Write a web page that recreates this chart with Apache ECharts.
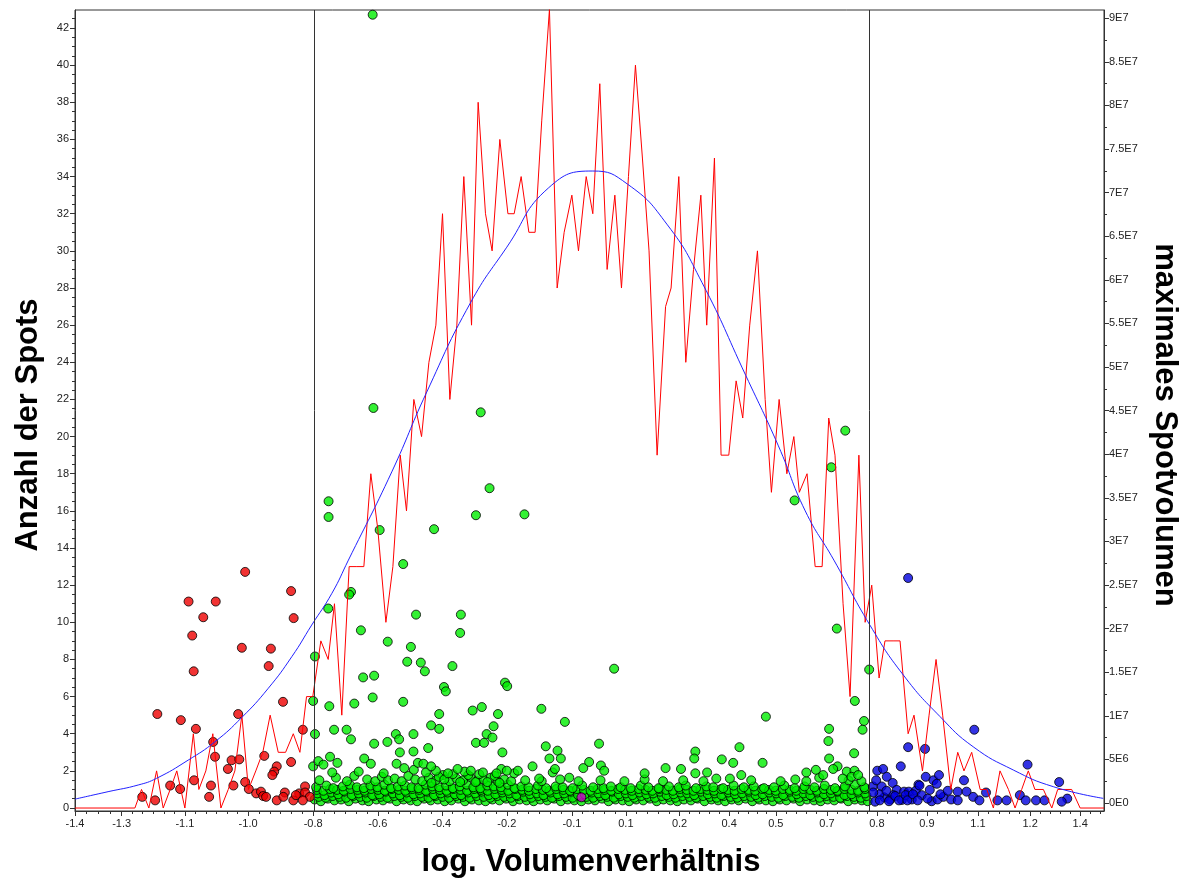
<!DOCTYPE html>
<html><head><meta charset="utf-8">
<script src="https://cdn.jsdelivr.net/npm/echarts@6/dist/echarts.min.js"></script>
<style>html,body{margin:0;padding:0;background:#fff}#c{width:1189px;height:883px}</style>
</head><body><div id="c"></div>
<script>
// ---------- axis ticks ----------
const xTickValues = [-1.400,-1.273,-1.101,-0.929,-0.752,-0.576,-0.402,-0.225,-0.048,0.099,0.245,0.380,0.507,0.646,0.782,0.918,1.057,1.199,1.335];
const xTickLabels = ["-1.4","-1.3","-1.1","-1.0","-0.8","-0.6","-0.4","-0.2","-0.1","0.1","0.2","0.4","0.5","0.7","0.8","0.9","1.1","1.2","1.4"];
const yLeftTickValues = [0,2,4,6,8,10,12,14,16,18,20,22,24,26,28,30,32,34,36,38,40,42];
const yLeftTickLabels = ["0","2","4","6","8","10","12","14","16","18","20","22","24","26","28","30","32","34","36","38","40","42"];
// right axis values in millions
const yRightTickValues = [0,5,10,15,20,25,30,35,40,45,50,55,60,65,70,75,80,85,90];
const yRightTickLabels = ["0E0","5E6","1E7","1.5E7","2E7","2.5E7","3E7","3.5E7","4E7","4.5E7","5E7","5.5E7","6E7","6.5E7","7E7","7.5E7","8E7","8.5E7","9E7"];

// ---------- histogram (Anzahl der Spots) ----------
const histX = [-1.400,-1.237,-1.219,-1.199,-1.178,-1.160,-1.141,-1.123,-1.101,-1.078,-1.063,-1.044,-1.025,-1.003,-0.983,-0.965,-0.946,-0.928,-0.908,-0.889,-0.869,-0.847,-0.827,-0.806,-0.788,-0.770,-0.753,-0.731,-0.711,-0.694,-0.674,-0.654,-0.633,-0.614,-0.595,-0.576,-0.554,-0.535,-0.515,-0.498,-0.478,-0.457,-0.437,-0.418,-0.400,-0.380,-0.361,-0.342,-0.321,-0.303,-0.283,-0.265,-0.244,-0.222,-0.205,-0.186,-0.165,-0.148,-0.130,-0.109,-0.088,-0.069,-0.048,-0.030,-0.009,0.009,0.028,0.048,0.069,0.087,0.106,0.125,0.144,0.162,0.184,0.207,0.222,0.243,0.262,0.283,0.303,0.319,0.340,0.358,0.379,0.399,0.417,0.436,0.457,0.478,0.495,0.516,0.537,0.556,0.571,0.592,0.614,0.633,0.651,0.668,0.690,0.709,0.733,0.750,0.768,0.788,0.804,0.826,0.845,0.867,0.883,0.906,0.924,0.943,0.961,0.983,1.002,1.019,1.040,1.063,1.081,1.099,1.117,1.140,1.158,1.176,1.194,1.212,1.235,1.258,1.274,1.294,1.312,1.335,1.400];
const histCount = [0,0,1,0,2,0,1,2,0,4,1,2,4,0,1,2,5,1,2,3,5,3,3,4,3,6,6,9,8,11,5,13,13,13,18,15,10,13,19,16,22,20,24,26,32,22,26,34,26,38,32,30,36,32,32,34,31,31,37,43,28,31,33,30,34,32,39,29,33,28,34,40,35,30,19,27,28,34,24,29,33,26,35,19,19,23,21,26,30,22,17,22,18,20,17,18,13,13,21,19,11,6,19,10,12,7,9,9,9,4,5,2,5,8,5,1,3,2,3,1,1,0,2,1,0,1,2,1,1,0,1,1,1,0,0];

// ---------- Gaussian fit ----------
const fitX = [-1.400,-1.310,-1.228,-1.178,-1.092,-1.019,-0.946,-0.874,-0.810,-0.756,-0.701,-0.656,-0.538,-0.444,-0.324,-0.225,-0.111,0.009,0.103,0.212,0.306,0.425,0.514,0.587,0.665,0.763,0.854,0.954,1.044,1.153,1.262,1.398];
const fitY = [0.48,0.88,1.24,1.60,2.58,3.57,4.88,6.45,8.15,9.85,11.56,13.35,18.1,22.35,27.2,30.2,33.4,34.3,33.6,31.4,28.3,23.3,19.5,16.0,13.35,9.85,7.16,4.92,3.30,2.05,1.15,0.52];

// ---------- thresholds ----------
const thresholdX = [-0.753, 0.763];

// ---------- spots: [log ratio, max spot volume in millions] ----------
const redSpots = [[-0.937,26.5],[-1.091,23.1],[-1.017,23.1],[-1.051,21.3],[-1.081,19.2],[-0.812,24.3],[-0.805,21.2],[-0.946,17.8],[-0.867,17.7],[-1.077,15.1],[-0.873,15.7],[-1.176,10.2],[-1.112,9.5],[-0.956,10.2],[-1.071,8.5],[-0.834,11.6],[-0.780,8.4],[-1.024,7.0],[-1.019,5.3],[-0.974,4.9],[-0.953,5.0],[-0.984,3.9],[-0.885,5.4],[-0.812,4.7],[-0.851,4.2],[-0.858,3.6],[-0.863,3.2],[-1.076,2.6],[-1.141,2.0],[-1.114,1.6],[-1.030,2.0],[-0.937,2.4],[-0.969,2.0],[-0.927,1.6],[-1.217,0.7],[-1.182,0.3],[-1.035,0.7],[-0.907,1.1],[-0.894,1.3],[-0.888,0.8],[-0.880,0.7],[-0.851,0.3],[-0.829,1.2],[-0.833,0.7],[-0.806,0.3],[-0.790,1.1],[-0.774,1.9],[-0.774,1.2],[-0.761,0.7],[-0.780,0.3],[-0.799,0.9]];

const greenSpots = [[-0.590,90.4],[-0.588,45.3],[-0.296,44.8],[-0.710,34.6],[-0.710,32.8],[-0.571,31.3],[-0.423,31.4],[-0.309,33.0],[-0.272,36.1],[-0.177,33.1],[0.558,34.7],[0.658,38.5],[0.696,42.7],
[-0.507,27.4],[-0.649,24.2],[-0.654,23.9],[-0.711,22.3],[-0.472,21.6],[-0.622,19.8],[-0.549,18.5],[-0.486,17.9],[-0.747,16.8],[-0.496,16.2],[-0.459,16.1],[-0.448,15.1],[-0.616,14.4],[-0.586,14.6],[-0.590,12.1],[-0.752,11.7],[-0.708,11.1],[-0.640,11.4],[-0.507,11.6],[-0.431,8.9],[-0.747,7.9],[-0.695,8.4],[-0.661,8.4],[-0.649,7.3],[-0.586,6.8],[-0.550,7.0],[-0.527,7.9],[-0.518,7.3],[-0.479,7.9],[-0.439,6.3],[-0.516,5.8],[-0.479,5.9],[-0.752,4.2],[-0.738,4.8],[-0.724,4.4],[-0.706,5.3],[-0.686,4.6],[-0.613,5.1],[-0.595,4.5],[-0.525,4.5],[-0.504,4.0],[-0.467,4.6],[-0.452,4.5],[-0.431,4.2],
[-0.350,21.6],[-0.352,19.5],[-0.373,15.7],[-0.396,13.3],[-0.391,12.8],[-0.230,13.8],[-0.224,13.4],[0.067,15.4],[-0.318,10.6],[-0.293,11.0],[-0.249,10.2],[-0.409,10.2],[-0.409,8.5],[-0.261,8.8],[-0.280,7.9],[-0.264,7.5],[-0.309,6.9],[-0.287,6.9],[-0.131,10.8],[-0.067,9.3],[0.480,9.9],[-0.237,5.8],[0.026,6.8],[-0.119,6.5],[-0.087,6.0],[-0.109,5.1],[-0.078,5.1],[-0.001,4.7],[0.031,4.3],[-0.017,4.0],[0.040,3.7],[-0.094,3.9],[-0.155,4.2],[-0.195,3.7],[0.207,4.0],[0.249,3.9],[0.288,5.9],[0.285,5.1],[0.288,3.4],[0.360,5.0],[0.391,4.6],[0.408,6.4],[0.471,4.6],[0.382,2.8],[0.413,3.2],[-0.055,2.9],[-0.137,2.8],[-0.323,3.7],[-0.359,3.9],[-0.253,3.4],[-0.225,3.7],
[0.673,20.0],[0.761,15.3],[0.722,11.7],[0.652,8.5],[0.747,9.4],[0.743,8.4],[0.650,7.1],[0.720,5.7],[0.652,5.1],[0.675,4.2],[0.616,3.8],[0.721,3.7],[0.663,3.9],[0.689,2.8],[0.713,3.0],[0.731,3.2],[0.636,3.2]];

// dense band of small spots near the bottom (read row by row)
const greenBandLow = [[-0.748,0.4],[-0.731,0.2],[-0.712,0.5],[-0.694,0.3],[-0.676,0.4],[-0.655,0.2],[-0.637,0.5],[-0.618,0.3],[-0.601,0.2],[-0.580,0.4],[-0.562,0.3],[-0.543,0.5],[-0.525,0.2],[-0.506,0.4],[-0.487,0.3],[-0.469,0.2],[-0.450,0.5],[-0.432,0.3],[-0.413,0.4],[-0.394,0.2],[-0.376,0.3],[-0.357,0.5],[-0.339,0.2],[-0.320,0.4],[-0.301,0.3],[-0.283,0.2],[-0.264,0.4],[-0.245,0.3],[-0.227,0.5],[-0.208,0.2],[-0.190,0.4],[-0.171,0.3],[-0.152,0.2],[-0.134,0.4],[-0.115,0.3],[-0.096,0.5],[-0.078,0.2],[-0.059,0.4],[-0.041,0.3],[-0.022,0.2],[-0.003,0.4],[0.015,0.3],[0.034,0.5],[0.052,0.2],[0.071,0.4],[0.090,0.3],[0.108,0.2],[0.127,0.4],[0.146,0.3],[0.164,0.5],[0.183,0.2],[0.201,0.4],[0.220,0.3],[0.239,0.2],[0.257,0.4],[0.276,0.3],[0.294,0.5],[0.313,0.2],[0.332,0.4],[0.350,0.3],[0.369,0.2],[0.387,0.4],[0.406,0.3],[0.425,0.5],[0.443,0.2],[0.462,0.4],[0.480,0.3],[0.499,0.2],[0.518,0.4],[0.536,0.3],[0.555,0.5],[0.573,0.2],[0.592,0.4],[0.611,0.3],[0.629,0.2],[0.648,0.4],[0.666,0.3],[0.685,0.5],[0.704,0.2],[0.722,0.4],[0.741,0.3],[0.757,0.2]];
const greenBandLow2 = [[-0.737,0.7],[-0.718,0.6],[-0.699,0.8],[-0.680,0.7],[-0.662,0.6],[-0.643,0.8],[-0.624,0.7],[-0.606,0.6],[-0.587,0.8],[-0.568,0.7],[-0.550,0.6],[-0.531,0.8],[-0.512,0.7],[-0.494,0.6],[-0.475,0.8],[-0.456,0.7],[-0.438,0.6],[-0.419,0.8],[-0.400,0.7],[-0.382,0.6],[-0.363,0.8],[-0.344,0.7],[-0.326,0.6],[-0.307,0.8],[-0.288,0.7],[-0.270,0.6],[-0.251,0.8],[-0.232,0.7],[-0.214,0.6],[-0.195,0.8],[-0.176,0.7],[-0.158,0.6],[-0.139,0.8],[-0.120,0.7],[-0.102,0.6],[-0.083,0.8],[-0.064,0.7],[-0.046,0.6],[-0.027,0.8],[-0.008,0.7],[0.010,0.6],[0.029,0.8],[0.048,0.7],[0.066,0.6],[0.085,0.8],[0.104,0.7],[0.122,0.6],[0.141,0.8],[0.160,0.7],[0.178,0.6],[0.197,0.8],[0.216,0.7],[0.234,0.6],[0.253,0.8],[0.272,0.7],[0.290,0.6],[0.309,0.8],[0.328,0.7],[0.346,0.6],[0.365,0.8],[0.384,0.7],[0.402,0.6],[0.421,0.8],[0.440,0.7],[0.458,0.6],[0.477,0.8],[0.496,0.7],[0.514,0.6],[0.533,0.8],[0.552,0.7],[0.570,0.6],[0.589,0.8],[0.608,0.7],[0.626,0.6],[0.645,0.8],[0.664,0.7],[0.682,0.6],[0.701,0.8],[0.720,0.7],[0.738,0.6],[0.754,0.8]];
const greenBandMid = [[-0.740,1.1],[-0.721,0.9],[-0.703,1.2],[-0.684,1.0],[-0.666,1.3],[-0.647,0.9],[-0.628,1.1],[-0.610,1.2],[-0.591,0.9],[-0.572,1.0],[-0.554,1.3],[-0.535,1.1],[-0.516,0.9],[-0.498,1.2],[-0.479,1.0],[-0.461,1.1],[-0.442,1.3],[-0.423,0.9],[-0.405,1.1],[-0.386,1.2],[-0.367,1.0],[-0.349,0.9],[-0.330,1.2],[-0.311,1.1],[-0.293,1.3],[-0.274,0.9],[-0.256,1.0],[-0.237,1.2],[-0.218,1.1],[-0.199,0.9],[-0.181,1.3],[-0.162,1.0],[-0.143,1.1],[-0.125,0.9],[-0.106,1.2],[-0.087,1.0],[-0.069,1.1],[-0.050,1.3],[-0.031,0.9],[-0.013,1.0],[0.006,1.2],[0.024,1.1],[0.043,0.9],[0.062,1.3],[0.080,1.0],[0.099,1.1],[0.117,0.9],[0.136,1.2],[0.155,1.0],[0.173,1.1],[0.192,1.3],[0.210,0.9],[0.229,1.0],[0.248,1.2],[0.266,1.1],[0.285,0.9],[0.303,1.3],[0.322,1.0],[0.341,1.1],[0.359,0.9],[0.378,1.2],[0.396,1.0],[0.415,1.1],[0.434,1.3],[0.452,0.9],[0.471,1.0],[0.489,1.2],[0.508,1.1],[0.527,0.9],[0.545,1.3],[0.564,1.0],[0.582,1.1],[0.601,0.9],[0.620,1.2],[0.638,1.0],[0.657,1.1],[0.675,1.3],[0.694,0.9],[0.713,1.0],[0.731,1.2],[0.750,1.1]];
const greenBandMid2 = [[-0.742,1.5],[-0.724,1.4],[-0.706,1.6],[-0.687,1.5],[-0.669,1.4],[-0.650,1.6],[-0.631,1.5],[-0.612,1.4],[-0.594,1.6],[-0.575,1.5],[-0.557,1.4],[-0.538,1.6],[-0.519,1.5],[-0.501,1.4],[-0.482,1.6],[-0.463,1.5],[-0.445,1.4],[-0.426,1.6],[-0.407,1.5],[-0.389,1.4],[-0.370,1.6],[-0.351,1.5],[-0.333,1.4],[-0.314,1.6],[-0.295,1.5],[-0.277,1.4],[-0.258,1.6],[-0.239,1.5],[-0.221,1.4],[-0.202,1.6],[-0.183,1.5],[-0.165,1.4],[-0.146,1.6],[-0.127,1.5],[-0.109,1.4],[-0.090,1.6],[-0.071,1.5],[-0.053,1.4],[-0.034,1.6],[-0.015,1.5],[0.003,1.4],[0.022,1.6],[0.041,1.5],[0.059,1.4],[0.078,1.6],[0.097,1.5],[0.115,1.4],[0.134,1.6],[0.153,1.5],[0.171,1.4],[0.190,1.6],[0.209,1.5],[0.227,1.4],[0.246,1.6],[0.265,1.5],[0.283,1.4],[0.302,1.6],[0.321,1.5],[0.339,1.4],[0.358,1.6],[0.377,1.5],[0.395,1.4],[0.414,1.6],[0.433,1.5],[0.451,1.4],[0.470,1.6],[0.489,1.5],[0.507,1.4],[0.526,1.6],[0.545,1.5],[0.563,1.4],[0.582,1.6],[0.601,1.5],[0.619,1.4],[0.638,1.6],[0.657,1.5],[0.675,1.4],[0.694,1.6],[0.713,1.5],[0.731,1.4],[0.750,1.6]];
const greenBandHigh = [[-0.744,1.8],[-0.716,2.0],[-0.697,1.7],[-0.671,1.9],[-0.652,2.1],[-0.633,1.8],[-0.614,1.7],[-0.596,2.0],[-0.577,1.8],[-0.558,2.1],[-0.540,1.7],[-0.521,1.9],[-0.502,2.0],[-0.484,1.8],[-0.465,1.7],[-0.446,2.1],[-0.428,1.9],[-0.409,1.8],[-0.390,2.0],[-0.372,1.7],[-0.353,1.9],[-0.334,2.1],[-0.316,1.8],[-0.297,1.7],[-0.278,2.0],[-0.260,1.9],[-0.241,1.8],[-0.222,2.1],[-0.204,1.7],[-0.185,1.9],[-0.166,1.8],[-0.140,2.0],[-0.118,1.7],[-0.092,1.9],[-0.073,1.8],[-0.046,1.7],[-0.020,2.0],[0.010,1.8],[0.038,1.7],[0.058,1.9],[0.085,1.8],[0.112,1.7],[0.140,2.0],[0.160,1.8],[0.188,1.7],[0.216,1.9],[0.243,1.8],[0.262,2.0],[0.290,1.7],[0.318,1.9],[0.337,1.8],[0.364,1.7],[0.392,2.0],[0.420,1.8],[0.447,1.9],[0.475,1.7],[0.502,1.8],[0.530,2.0],[0.558,1.7],[0.585,1.9],[0.612,1.8],[0.640,2.0],[0.668,1.7],[0.695,1.9],[0.722,2.1],[0.748,1.8],
[-0.735,2.6],[-0.690,2.9],[-0.660,2.5],[-0.640,3.1],[-0.605,2.7],[-0.583,2.5],[-0.565,3.0],[-0.548,2.6],[-0.530,2.8],[-0.511,2.5],[-0.493,3.1],[-0.474,2.7],[-0.455,2.5],[-0.437,2.9],[-0.418,2.6],[-0.399,3.2],[-0.381,2.5],[-0.362,2.8],[-0.344,2.6],[-0.325,3.0],[-0.306,2.5],[-0.288,2.7],[-0.269,2.9],[-0.250,2.5],[-0.232,2.7],[-0.213,2.5],[-0.175,2.6],[-0.130,2.5],[-0.080,2.7],[-0.030,2.5],[0.030,2.6],[0.095,2.5],[0.150,2.7],[0.200,2.5],[0.255,2.6],[0.310,2.5],[0.345,2.8],[0.440,2.6],[0.520,2.5],[0.560,2.7],[0.590,2.5],[0.625,2.9],[0.705,2.6],[0.740,2.5],
[-0.430,2.3],[-0.410,3.0],[-0.395,2.7],[-0.372,3.3],[-0.352,2.4],[-0.330,3.2],[-0.310,2.4],[-0.300,3.3],[-0.278,2.4],[-0.258,3.1],[-0.245,2.3],
[-0.700,3.5],[-0.628,3.6],[-0.560,3.4],[-0.478,3.8],[-0.445,3.5],[-0.418,3.7],[-0.385,3.4],[-0.340,3.6],[-0.290,3.5],[-0.240,3.9],[-0.205,3.4],[-0.100,3.5],[0.150,3.4],[0.320,3.5],[0.590,3.5],[0.700,3.6]];

const blueSpots = [[0.867,25.8],[1.047,8.4],[1.192,4.4],[1.278,2.4],[0.867,6.4],[0.913,6.2],[0.847,4.2],[0.783,3.7],[0.799,3.9],[0.809,3.0],[0.915,3.0],[0.936,2.6],[0.951,3.2],[0.945,2.2],[1.019,2.6],[0.895,2.1],[0.771,1.9],[0.795,1.9],[0.825,2.3],[0.836,1.5],[0.856,1.3],[0.869,1.3],[0.888,1.4],[0.926,1.5],[1.002,1.3],[1.026,1.3],[1.079,1.2],[1.171,0.9],[1.300,0.5],[0.777,0.15],[0.802,0.65],[0.818,0.4],[0.850,0.35],[0.877,0.4],[0.904,0.9],[0.931,0.2],[0.947,0.4],[0.963,0.7],[0.984,0.4],[1.002,0.3],[1.044,0.7],[1.061,0.3],[1.110,0.3],[1.135,0.3],[1.187,0.3],[1.215,0.3],[1.238,0.3],[1.285,0.15],[0.789,1.0],[0.827,0.9],
[0.772,1.2],[0.790,0.3],[0.808,1.4],[0.815,0.2],[0.832,0.8],[0.842,0.3],[0.860,0.9],[0.865,0.3],[0.880,1.0],[0.893,0.3],[0.898,2.0],[0.920,0.5],[0.955,1.0],[0.975,1.4],[0.780,2.6]];

const magentaSpots = [[-0.022,0.65]];

// ---------- chart ----------
const FONT = '"Liberation Sans", Arial, sans-serif';
const AX = '#333';
function lookup(vals, labels) {
  return function (v) {
    for (let i = 0; i < vals.length; i++) if (Math.abs(vals[i] - v) < 1e-6) return labels[i];
    return '';
  };
}
// minor ticks between the labelled ticks
const xMinor = [];
for (let i = 0; i < xTickValues.length - 1; i++) {
  const a = xTickValues[i], b = xTickValues[i + 1];
  const n = i === 0 ? 4 : (b <= 0 ? 6 : 5);
  for (let k = 1; k < n; k++) xMinor.push(a + (b - a) * k / n);
}
{ const last = xTickValues[xTickValues.length - 1], step = (last - xTickValues[xTickValues.length - 2]) / 5;
  for (let v = last + step; v < 1.4; v += step) xMinor.push(v); }
const yLeftMinor = [];
for (let i = 0; i < yLeftTickValues.length; i++) { const v = yLeftTickValues[i]; [0.5, 1, 1.5].forEach(d => { if (v + d < 43) yLeftMinor.push(v + d); }); }
const yRightMinor = yRightTickValues.map(v => v + 2.5).filter(v => v < 91);

const spotStyle = (c) => ({ color: c, borderColor: '#000', borderWidth: 1 });
const labelStyle = { fontSize: 11, color: '#222', fontFamily: FONT };

const chart = echarts.init(document.getElementById('c'));
chart.setOption({
  animation: false,
  backgroundColor: '#fff',
  grid: { left: 75, right: 85, top: 10, bottom: 72, show: true, borderColor: AX, borderWidth: 1, backgroundColor: 'transparent' },
  xAxis: [
    { type: 'value', min: -1.4, max: 1.4, position: 'bottom',
      axisLine: { show: true, onZero: false, lineStyle: { color: AX } },
      axisTick: { show: true, customValues: xTickValues, length: 5, lineStyle: { color: AX } },
      axisLabel: Object.assign({ customValues: xTickValues, formatter: lookup(xTickValues, xTickLabels), margin: 7 }, labelStyle),
      splitLine: { show: false } },
    { type: 'value', min: -1.4, max: 1.4, position: 'bottom',
      axisLine: { show: false, onZero: false },
      axisTick: { show: true, customValues: xMinor, length: 3, lineStyle: { color: AX } },
      axisLabel: { show: false }, splitLine: { show: false } }
  ],
  yAxis: [
    { type: 'value', min: -0.16, max: 42.97, position: 'left',
      axisLine: { show: true, onZero: false, lineStyle: { color: AX } },
      axisTick: { show: true, customValues: yLeftTickValues, length: 5, lineStyle: { color: AX } },
      axisLabel: Object.assign({ customValues: yLeftTickValues, formatter: lookup(yLeftTickValues, yLeftTickLabels), margin: 6 }, labelStyle),
      splitLine: { show: false } },
    { type: 'value', min: -0.92, max: 90.94, position: 'right',
      axisLine: { show: true, onZero: false, lineStyle: { color: AX } },
      axisTick: { show: true, customValues: yRightTickValues, length: 5, lineStyle: { color: AX } },
      axisLabel: Object.assign({ customValues: yRightTickValues, formatter: lookup(yRightTickValues, yRightTickLabels), margin: 5 }, labelStyle),
      splitLine: { show: false } },
    { type: 'value', min: -0.16, max: 42.97, position: 'left',
      axisLine: { show: false, onZero: false },
      axisTick: { show: true, customValues: yLeftMinor, length: 3, lineStyle: { color: AX } },
      axisLabel: { show: false }, splitLine: { show: false } },
    { type: 'value', min: -0.92, max: 90.94, position: 'right',
      axisLine: { show: false, onZero: false },
      axisTick: { show: true, customValues: yRightMinor, length: 3, lineStyle: { color: AX } },
      axisLabel: { show: false }, splitLine: { show: false } }
  ],
  graphic: [
    { type: 'text', x: 28, y: 425, rotation: Math.PI / 2, z: 100,
      style: { text: 'Anzahl der Spots', font: 'bold 31px ' + FONT, fill: '#000', textAlign: 'center', textVerticalAlign: 'middle', align: 'center', verticalAlign: 'middle' } },
    { type: 'text', x: 1165, y: 425, rotation: -Math.PI / 2, z: 100,
      style: { text: 'maximales Spotvolumen', font: 'bold 31px ' + FONT, fill: '#000', textAlign: 'center', textVerticalAlign: 'middle', align: 'center', verticalAlign: 'middle' } },
    { type: 'text', x: 591, y: 862, z: 100,
      style: { text: 'log. Volumenverhältnis', font: 'bold 31px ' + FONT, fill: '#000', textAlign: 'center', textVerticalAlign: 'middle', align: 'center', verticalAlign: 'middle' } }
  ],
  series: [
    { type: 'scatter', xAxisIndex: 0, yAxisIndex: 1, z: 2, symbol: 'circle', symbolSize: 9, itemStyle: spotStyle('#00ee00'),
      data: greenBandLow.concat(greenBandLow2, greenBandMid, greenBandMid2, greenBandHigh, greenSpots) },
    { type: 'scatter', xAxisIndex: 0, yAxisIndex: 1, z: 2, symbol: 'circle', symbolSize: 9, itemStyle: spotStyle('#ee0000'), data: redSpots },
    { type: 'scatter', xAxisIndex: 0, yAxisIndex: 1, z: 2, symbol: 'circle', symbolSize: 9, itemStyle: spotStyle('#0000dd'), data: blueSpots },
    { type: 'scatter', xAxisIndex: 0, yAxisIndex: 1, z: 2, symbol: 'circle', symbolSize: 9, itemStyle: spotStyle('#cc00cc'), data: magentaSpots },
    { type: 'line', xAxisIndex: 0, yAxisIndex: 0, z: 3, symbol: 'none', lineStyle: { color: '#ff0000', width: 1 },
      data: histX.map((x, i) => [x, histCount[i]]),
      markLine: { silent: true, symbol: ['none', 'none'], label: { show: false }, lineStyle: { color: AX, width: 1, type: 'solid' },
        data: thresholdX.map(v => ({ xAxis: v })) } },
    { type: 'line', xAxisIndex: 0, yAxisIndex: 0, z: 3, symbol: 'none', smooth: true, lineStyle: { color: '#2222ff', width: 1 },
      data: fitX.map((x, i) => [x, fitY[i]]) }
  ]
});
</script></body></html>
